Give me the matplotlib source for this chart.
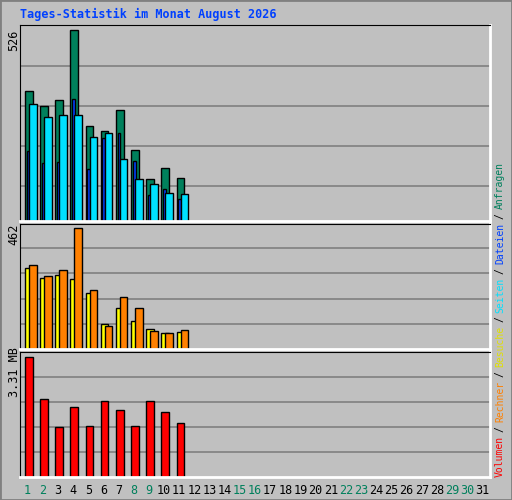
import matplotlib
matplotlib.use("Agg")
import matplotlib.pyplot as plt
import numpy as np

days = list(range(1, 32))
hits = [358, 317, 333, 525, 262, 248, 305, 196, 115, 146, 118]
files = [193, 159, 162, 335, 143, 229, 241, 165, 72, 87, 60]
pages = [321, 286, 291, 291, 230, 241, 170, 115, 101, 76, 73]
visits = [308, 273, 281, 266, 212, 96, 158, 108, 77, 62, 65]
sites = [321, 277, 300, 462, 227, 89, 200, 158, 69, 62, 73]
volume = [3.31, 2.14, 1.39, 1.92, 1.42, 2.09, 1.84, 1.42, 2.09, 1.78, 1.50]
weekend = [1, 2, 8, 9, 15, 16, 22, 23, 29, 30]

W, H = 512, 500
fig = plt.figure(figsize=(W/100, H/100), dpi=100, facecolor="#C0C0C0")
mono = "DejaVu Sans Mono"

fig.add_artist(plt.Rectangle((0, 0), 1, 1, transform=fig.transFigure, fill=False, ec="#808080", lw=2))

def ax_px(x0, y0, x1, y1):
    return fig.add_axes([x0/W, 1-y1/H, (x1-x0)/W, (y1-y0)/H])

def style(ax, top):
    ax.set_facecolor("#C0C0C0")
    ax.set_xlim(0.5, 31.5)
    ax.set_ylim(0, top)
    ax.set_xticks([])
    ax.set_yticks([])
    for s in ["left", "top"]:
        ax.spines[s].set_color("black")
    for s in ["right", "bottom"]:
        ax.spines[s].set_color("white")
        ax.spines[s].set_linewidth(2)

x = np.arange(1, 12)
a1 = ax_px(20, 25, 490, 221)
style(a1, 526 * 196 / 191)
for g in [1, 2, 3, 4]:
    a1.axhline(526 * 40 * g / 191 + 526*(-5)/191, color="#808080", lw=1.2, zorder=0)
a1.bar(x - 0.17, hits, width=0.5, align="edge", color="#00805C", ec="black", lw=1)
a1.bar(x - 0.06, files, width=0.18, align="edge", color="#0040FF", ec="black", lw=1)
a1.bar(x + 0.09, pages, width=0.5, align="edge", color="#00E0FF", ec="black", lw=1)

a2 = ax_px(20, 224, 490, 349)
style(a2, 462 * 124 / 120)
for g in [1, 2, 3, 4]:
    a2.axhline(462 * g / 4.8, color="#808080", lw=1.2, zorder=0)
a2.bar(x - 0.17, visits, width=0.5, align="edge", color="#FFFF00", ec="black", lw=1)
a2.bar(x + 0.09, sites, width=0.5, align="edge", color="#FF8000", ec="black", lw=1)

a3 = ax_px(20, 352, 490, 477)
style(a3, 3.31 * 124 / 119)
for g in [1, 2, 3, 4]:
    a3.axhline(3.31 * g / 4.8, color="#808080", lw=1.2, zorder=0)
a3.bar(x - 0.17, volume, width=0.5, align="edge", color="#FF0000", ec="black", lw=1)

for d in days:
    xp = 20 + (d - 0.5) * 470 / 31
    fig.text(xp/W, 1-490/H, str(d), ha="center", va="center", family=mono, fontsize=8.5,
             color="#00805C" if d in weekend else "black")

fig.text(14/W, 1-40/H, "526", rotation=90, ha="center", va="center", family=mono, fontsize=8.5)
fig.text(14/W, 1-234/H, "462", rotation=90, ha="center", va="center", family=mono, fontsize=8.5)
fig.text(14/W, 1-372/H, "3.31 MB", rotation=90, ha="center", va="center", family=mono, fontsize=8.5)

fig.text(20/W, 1-14/H, "Tages-Statistik im Monat August 2026", family=mono, fontsize=8.5,
         weight="bold", color="#0040FF", va="center")

parts = [("Volumen", "#FF0000"), ("/", "black"), ("Rechner", "#FF8000"), ("/", "black"),
         ("Besuche", "#E0E000"), ("/", "black"), ("Seiten", "#00E0FF"), ("/", "black"),
         ("Dateien", "#0040FF"), ("/", "black"), ("Anfragen", "#00805C")]
ypos = 477
ch = 5.85
gap = 4
for t, c in parts:
    L = len(t) * ch
    fig.text(500/W, 1-(ypos - L/2)/H, t, rotation=90, ha="center", va="center",
             family=mono, fontsize=7, color=c)
    ypos -= L + gap

fig.savefig("out.png", dpi=100, facecolor=fig.get_facecolor())
